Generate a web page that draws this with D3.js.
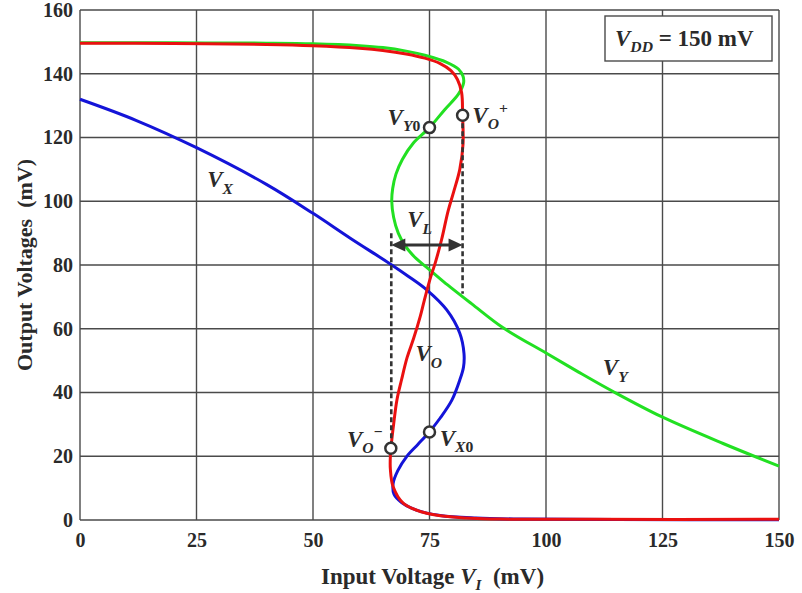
<!DOCTYPE html>
<html>
<head>
<meta charset="utf-8">
<script src="https://cdn.jsdelivr.net/npm/d3@7/dist/d3.min.js"></script>
<style>
  html, body { margin: 0; padding: 0; background: #fff; }
  svg { display: block; }
  text { font-family: "Liberation Serif", "Times New Roman", serif; font-weight: bold; fill: #2a2a2a; }
</style>
</head>
<body>
<svg id="chart" width="802" height="593"></svg>
<script>
// Transfer characteristics of the cross-coupled stage, VDD = 150 mV.
// Each series is listed as [input mV, output mV] pairs in drawing order
// (the S-shaped branches fold back, so they are not functions of x).
const xTicks = [0, 25, 50, 75, 100, 125, 150];
const yTicks = [0, 20, 40, 60, 80, 100, 120, 140, 160];

const seriesVX = [
  [0, 132], [12, 125.4], [25, 116.8], [40, 105.3], [50, 96.2], [58, 88.4],
  [66.5, 80.4], [70.5, 76.4], [74.4, 72.2], [78.7, 65.9], [81.5, 58.6],
  [82.4, 52.3], [82.3, 48], [81.5, 43.9], [79.8, 37.6], [77.3, 32],
  [75, 27.7], [72.5, 23.7], [70.1, 19.9], [68.2, 15.5], [67.2, 11.5],
  [67.4, 8], [69, 5.5], [72.2, 3.1], [77.3, 1.4], [85, 0.6], [95, 0.3],
  [115, 0.15], [150, 0.1]
];

const seriesVY = [
  [0, 149.7], [20, 149.7], [40, 149.6], [50, 149.4], [60, 148.8], [65, 148.2],
  [70, 147.1], [74, 145.8], [78.7, 143.6], [81.2, 141.5], [82.2, 139.2],
  [82.3, 137], [81.2, 133.6], [78.3, 128.8], [75, 123.1], [71.5, 118.2],
  [69.2, 113.2], [67.8, 108.5], [67.1, 104], [66.9, 100], [67.3, 95],
  [68.3, 90], [69.8, 86], [71.8, 82.5], [75.1, 78.4], [78, 74.8],
  [84, 67.9], [90.8, 60.3], [100.1, 52.3], [107, 46.4], [114.4, 40.3],
  [124.8, 32.4], [138, 24], [150, 16.9]
];

const seriesVO = [
  [0, 149.6], [20, 149.5], [40, 149.2], [50, 148.8], [60, 148], [65, 147.3],
  [70, 146.2], [74, 144.9], [77.3, 143.2], [79.6, 141], [81, 138.2],
  [81.9, 134], [82.1, 127], [82.2, 118], [81.5, 110], [80.2, 103], [79, 97],
  [77.6, 88], [76.3, 81], [75.1, 75.5], [73.9, 69], [73, 63.8], [71.6, 57],
  [70.2, 51], [69, 44], [68, 37.6], [67.3, 30], [66.9, 25], [66.6, 20],
  [66.6, 16], [67.2, 10.4], [69.4, 5.2], [74.4, 2.1], [83, 0.6], [90, 0.3],
  [110, 0.2], [150, 0.2]
];

// Marked operating points
const pointVY0 = [75, 123.1];
const pointVOplus = [82.1, 127];
const pointVOminus = [66.7, 22.5];
const pointVX0 = [75, 27.6];

// Hysteresis window VL between the two switching inputs
const windowVL = { lo: 66.8, hi: 82.1, arrowAt: 86.3, leftTop: 90, rightBottom: 71 };

const vdd = "150 mV";

const svg = d3.select("#chart");
const margin = { left: 80, right: 23, top: 10, bottom: 73 };
const W = 802, H = 593;

const x = d3.scaleLinear().domain([0, 150]).range([margin.left, W - margin.right]);
const y = d3.scaleLinear().domain([0, 160]).range([H - margin.bottom, margin.top]);

const gridColor = "#4a4a4a";

// Grid
const grid = svg.append("g");
grid.selectAll("line.v").data(xTicks).join("line")
  .attr("x1", d => x(d)).attr("x2", d => x(d))
  .attr("y1", y(0)).attr("y2", y(160))
  .attr("stroke", gridColor).attr("stroke-width", 1.4);
grid.selectAll("line.h").data(yTicks).join("line")
  .attr("x1", x(0)).attr("x2", x(150))
  .attr("y1", d => y(d)).attr("y2", d => y(d))
  .attr("stroke", gridColor).attr("stroke-width", 1.4);

// Axes (labels only; the grid supplies the lines)
const xAxis = svg.append("g").attr("transform", `translate(0,${y(0)})`)
  .call(d3.axisBottom(x).tickValues(xTicks).tickSize(0).tickPadding(8));
const yAxis = svg.append("g").attr("transform", `translate(${x(0)},0)`)
  .call(d3.axisLeft(y).tickValues(yTicks).tickSize(0).tickPadding(7));
[xAxis, yAxis].forEach(a => {
  a.select(".domain").remove();
  a.selectAll("text").attr("font-size", 20).attr("font-family", "Liberation Serif")
    .attr("font-weight", "bold").attr("fill", "#2a2a2a");
});
xAxis.selectAll("text").attr("dy", "0.95em");

// Curves
const line = d3.line().x(d => x(d[0])).y(d => y(d[1])).curve(d3.curveCatmullRom.alpha(0.5));
const curves = [
  { data: seriesVX, color: "#1414d8" },
  { data: seriesVY, color: "#22e022" },
  { data: seriesVO, color: "#ea1010" }
];
svg.append("g").selectAll("path").data(curves).join("path")
  .attr("d", d => line(d.data))
  .attr("fill", "none")
  .attr("stroke", d => d.color)
  .attr("stroke-width", 3)
  .attr("stroke-linejoin", "round");

// VL window: dashed bounds and a double-headed arrow
const ink = "#333";
svg.append("line")
  .attr("x1", x(windowVL.lo)).attr("x2", x(windowVL.lo))
  .attr("y1", y(windowVL.leftTop)).attr("y2", y(pointVOminus[1]))
  .attr("stroke", ink).attr("stroke-width", 2.6).attr("stroke-dasharray", "5,3");
svg.append("line")
  .attr("x1", x(windowVL.hi)).attr("x2", x(windowVL.hi))
  .attr("y1", y(pointVOplus[1])).attr("y2", y(windowVL.rightBottom))
  .attr("stroke", ink).attr("stroke-width", 2.6).attr("stroke-dasharray", "5,3");

const ay = y(windowVL.arrowAt), ax0 = x(windowVL.lo), ax1 = x(windowVL.hi);
const head = 14, half = 6.5;
svg.append("line").attr("x1", ax0 + head - 2).attr("x2", ax1 - head + 2)
  .attr("y1", ay).attr("y2", ay).attr("stroke", ink).attr("stroke-width", 3);
svg.append("path")
  .attr("d", `M${ax0},${ay} L${ax0 + head},${ay - half} L${ax0 + head},${ay + half} Z`)
  .attr("fill", ink);
svg.append("path")
  .attr("d", `M${ax1},${ay} L${ax1 - head},${ay - half} L${ax1 - head},${ay + half} Z`)
  .attr("fill", ink);

// Operating-point markers
svg.append("g").selectAll("circle")
  .data([pointVY0, pointVOplus, pointVOminus, pointVX0]).join("circle")
  .attr("cx", d => x(d[0])).attr("cy", d => y(d[1])).attr("r", 5.5)
  .attr("fill", "#fff").attr("stroke", ink).attr("stroke-width", 2.5);

// Symbol labels: italic V with subscript / superscript parts
function symbol(px, py, parts, size) {
  const t = svg.append("text").attr("x", px).attr("y", py).attr("font-size", size);
  let shift = 0;
  parts.forEach(p => {
    const target = p.sub ? size * 0.28 : p.sup ? -size * 0.42 : 0;
    t.append("tspan")
      .attr("dy", target - shift)
      .attr("font-size", p.sub || p.sup ? size * 0.68 : size)
      .attr("font-style", p.italic ? "italic" : "normal")
      .attr("dx", p.dx || 0)
      .text(p.t);
    shift = target;
  });
  return t;
}

symbol(x(27.3), y(104.4), [{ t: "V", italic: true }, { t: "X", italic: true, sub: true }], 23);
symbol(x(112.2), y(45.4), [{ t: "V", italic: true }, { t: "Y", italic: true, sub: true }], 23);
symbol(x(70.2), y(91.8), [{ t: "V", italic: true }, { t: "L", italic: true, sub: true }], 23);
symbol(x(72.0), y(49.8), [{ t: "V", italic: true }, { t: "O", italic: true, sub: true }], 23);
symbol(x(66.0), y(124), [{ t: "V", italic: true }, { t: "Y", italic: true, sub: true }, { t: "0", sub: true }], 23);
symbol(x(84.2), y(124.6), [{ t: "V", italic: true }, { t: "O", italic: true, sub: true }, { t: "+", sup: true }], 23);
symbol(x(57.3), y(23), [{ t: "V", italic: true }, { t: "O", italic: true, sub: true }, { t: "\u2212", sup: true }], 23);
symbol(x(77.2), y(23.2), [{ t: "V", italic: true }, { t: "X", italic: true, sub: true }, { t: "0", sub: true }], 23);

// Supply annotation box
const boxX0 = 605, boxY0 = 16, boxW = 167, boxH = 45;
svg.append("rect").attr("x", boxX0).attr("y", boxY0).attr("width", boxW).attr("height", boxH)
  .attr("fill", "#fff").attr("stroke", gridColor).attr("stroke-width", 1.4);
symbol(boxX0 + 10, boxY0 + 30, [
  { t: "V", italic: true }, { t: "DD", italic: true, sub: true },
  { t: " = " + vdd }
], 23);

// Axis titles
svg.append("text")
  .attr("x", (x(0) + x(150)) / 2 + 3).attr("y", 584)
  .attr("text-anchor", "middle").attr("font-size", 23)
  .style("white-space", "pre")
  .call(t => {
    t.append("tspan").text("Input Voltage ");
    t.append("tspan").attr("font-style", "italic").text("V");
    t.append("tspan").attr("font-style", "italic").attr("font-size", 15).attr("dy", 6).text("I");
    t.append("tspan").attr("dy", -6).text("  (mV)");
  });

svg.append("text")
  .attr("transform", `translate(32,${(y(0) + y(160)) / 2}) rotate(-90)`)
  .attr("text-anchor", "middle").attr("font-size", 22)
  .style("white-space", "pre")
  .text("Output Voltages  (mV)");
</script>
</body>
</html>
